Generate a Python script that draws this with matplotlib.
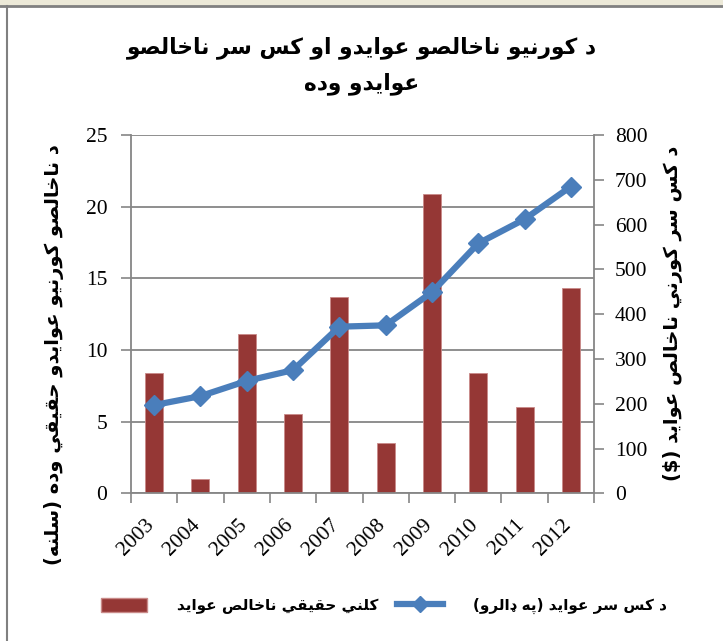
import numpy as np
import matplotlib
matplotlib.use('Agg')
import matplotlib.pyplot as plt
from matplotlib.patches import Patch, Rectangle
from matplotlib.lines import Line2D
from matplotlib.transforms import ScaledTranslation

# data
years = ['2003', '2004', '2005', '2006', '2007', '2008', '2009', '2010', '2011', '2012']
real_growth = [8.4, 1.0, 11.1, 5.5, 13.7, 3.5, 20.9, 8.4, 6.0, 14.3]
per_capita = [197, 217, 251, 275, 372, 375, 449, 558, 612, 685]

title_lines = ['د کورنيو ناخالصو عوايدو او کس سر ناخالصو', 'عوايدو وده']
left_label = 'د ناخالصو کورنيو عوايدو حقيقي وده (سلنه)'
right_label = 'د کس سر کورني ناخالص عوايد ($)'
bar_label = 'کلني حقيقي ناخالص عوايد'
line_label = 'د کس سر عوايد (په ډالرو)'

# matplotlib has no arabic shaping, so pick presentation forms by hand
# forms: isolated, final, initial, medial (right-joining letters only have two)
FORMS = {
    'ا': 'ﺍﺎ', 'د': 'ﺩﺪ', 'ر': 'ﺭﺮ', 'و': 'ﻭﻮ', 'ډ': 'ډډ',
    'ک': 'ﮎﮏﮐﮑ', 'پ': 'ﭖﭗﭘﭙ', 'ن': 'ﻥﻦﻧﻨ', 'ي': 'ﻱﻲﻳﻴ',
    'خ': 'ﺥﺦﺧﺨ', 'ل': 'ﻝﻞﻟﻠ', 'ص': 'ﺹﺺﺻﺼ', 'ع': 'ﻉﻊﻋﻌ',
    'س': 'ﺱﺲﺳﺴ', 'ح': 'ﺡﺢﺣﺤ', 'ق': 'ﻕﻖﻗﻘ', 'ه': 'ﻩﻪﻫﻬ',
}
MIRROR = {'(': ')', ')': '('}


def shape(s):
    out = []
    for i, c in enumerate(s):
        if c not in FORMS:
            out.append(c)
            continue
        f = FORMS[c]
        prev_join = i > 0 and s[i - 1] in FORMS and len(FORMS[s[i - 1]]) == 4
        next_join = len(f) == 4 and i + 1 < len(s) and s[i + 1] in FORMS
        if prev_join and next_join:
            out.append(f[3])
        elif prev_join:
            out.append(f[1])
        elif next_join:
            out.append(f[2])
        else:
            out.append(f[0])
    return ''.join(MIRROR.get(c, c) for c in reversed(out))


W, H = 723, 641
fig = plt.figure(figsize=(W / 100, H / 100), dpi=100)
ax = fig.add_axes([131 / W, 1 - 493.3 / H, (594 - 131) / W, (493.3 - 135) / H])

grey = '#868686'
x = np.arange(len(years))

ax.bar(x, real_growth, width=0.39, color='#953735', edgecolor='#C98A89', linewidth=0.6)
ax.set_xlim(-0.5, len(years) - 0.5)
ax.set_ylim(0, 25)
ax.set_yticks(np.arange(0, 26, 5))
ax.yaxis.grid(True, color=grey, linewidth=1.3)
ax.set_axisbelow(True)
ax.set_xticks(x)
ax.set_xticklabels(years, rotation=45, ha='right', va='top')
ax.set_xticks(np.arange(-0.5, len(years)), minor=True)
ax.tick_params(axis='x', which='major', length=0, pad=16)
ax.tick_params(axis='x', which='minor', length=7, width=1.2, color=grey, direction='out')
ax.tick_params(axis='y', length=7, width=1.2, color=grey, direction='out', pad=10)
for sp in ['top', 'right']:
    ax.spines[sp].set_visible(False)
for sp in ['left', 'bottom']:
    ax.spines[sp].set_color(grey)
    ax.spines[sp].set_linewidth(1.3)

ax2 = ax.twinx()
ax2.plot(x, per_capita, color='#4A7EBB', linewidth=4.5, marker='D', markersize=10,
         markerfacecolor='#4A7EBB', markeredgecolor='#4A7EBB')
ax2.set_ylim(0, 800)
ax2.set_yticks(np.arange(0, 801, 100))
ax2.tick_params(axis='y', length=7, width=1.2, color=grey, direction='out', pad=8)
for sp in ['top', 'left', 'bottom']:
    ax2.spines[sp].set_visible(False)
ax2.spines['right'].set_color(grey)
ax2.spines['right'].set_linewidth(1.3)

for lab in ax.get_xticklabels() + ax.get_yticklabels() + ax2.get_yticklabels():
    lab.set_family('Liberation Serif')
    lab.set_fontsize(15.5)
shift = ScaledTranslation(4 / 100, 0, fig.dpi_scale_trans)
for lab in ax.get_xticklabels():
    lab.set_transform(lab.get_transform() + shift)

arab = {'family': 'DejaVu Sans', 'weight': 'bold'}
fig.text(362 / W, 1 - 48 / H, shape(title_lines[0]), ha='center', va='center', fontsize=15.7, **arab)
fig.text(362 / W, 1 - 84 / H, shape(title_lines[1]), ha='center', va='center', fontsize=15.7, **arab)
fig.text(54 / W, 1 - 355 / H, shape(left_label), rotation=90, ha='center', va='center', fontsize=14, **arab)
fig.text(673 / W, 1 - 313 / H, shape(right_label), rotation=90, ha='center', va='center', fontsize=14, **arab)

handles = [Patch(facecolor='#953735', edgecolor='#C98A89'),
           Line2D([0], [0], color='#4A7EBB', linewidth=4.5, marker='D', markersize=8)]
fig.legend(handles, [shape(bar_label), shape(line_label)], ncol=2, frameon=False,
           loc='center', bbox_to_anchor=(384 / W, 1 - 606 / H),
           prop={'family': 'DejaVu Sans', 'weight': 'bold', 'size': 11},
           handlelength=3.0, handleheight=1.0, handletextpad=2.0, columnspacing=1.2)

# window frame around the chart
fig.add_artist(Rectangle((0, 1 - 5 / H), 1, 5 / H, transform=fig.transFigure, color='#ECE9D8'))
fig.add_artist(Line2D([0, 1], [1 - 6 / H, 1 - 6 / H], transform=fig.transFigure, color='#808080', linewidth=2))
fig.add_artist(Line2D([7 / W, 7 / W], [0, 1 - 6 / H], transform=fig.transFigure, color='#808080', linewidth=1.5))

fig.savefig('out.png', dpi=100)
